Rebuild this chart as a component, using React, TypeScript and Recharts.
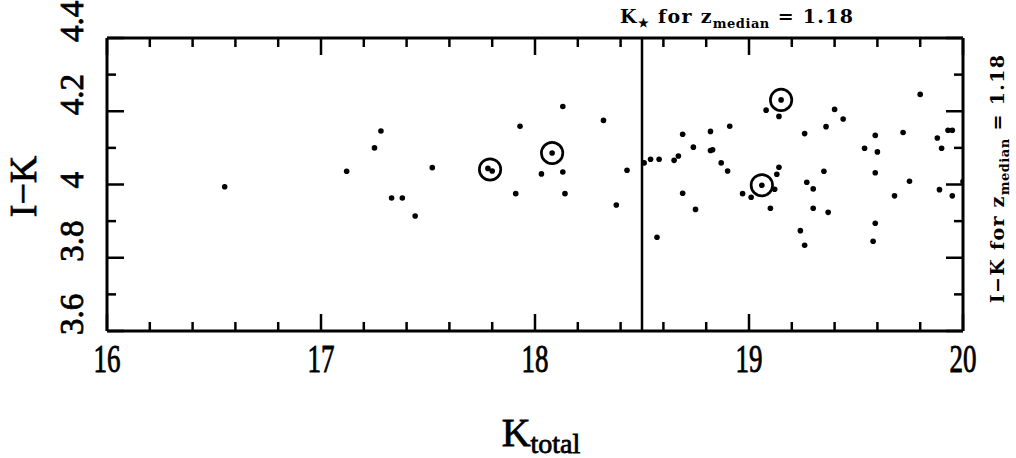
import React from 'react';
import { ScatterChart, Scatter, XAxis, YAxis, ReferenceLine } from 'recharts';

// galaxies: K_total vs I-K
const kTotal = [
  16.55, 17.12, 17.25, 17.28, 17.33, 17.38, 17.44, 17.52, 17.78, 17.8,
  17.91, 17.93, 18.03, 18.08, 18.13, 18.13, 18.14, 18.32, 18.38, 18.43,
  18.51, 18.54, 18.58, 18.57, 18.65, 18.67, 18.69, 18.69, 18.74, 18.75,
  18.82, 18.83, 18.82, 18.87, 18.9, 18.91, 18.97, 19.01, 19.06, 19.08,
  19.1, 19.12, 19.13, 19.14, 19.14, 19.15, 19.24, 19.26, 19.26, 19.27,
  19.3, 19.3, 19.35, 19.36, 19.37, 19.4, 19.44, 19.54, 19.58, 19.59,
  19.59, 19.59, 19.6, 19.68, 19.72, 19.75, 19.8, 19.88, 19.89, 19.9,
  19.93, 19.95, 19.95, 20.0,
];
const iMinusK = [
  3.994, 4.036, 4.1, 4.146, 3.963, 3.963, 3.914, 4.046, 4.044, 4.037,
  3.975, 4.159, 4.029, 4.086, 4.213, 4.034, 3.975, 4.175, 3.944, 4.039,
  4.059, 4.069, 4.069, 3.856, 4.066, 4.078, 4.137, 3.976, 4.102, 3.932,
  4.145, 4.095, 4.093, 4.059, 4.037, 4.159, 3.975, 3.965, 3.998, 4.203,
  3.935, 3.987, 4.028, 4.047, 4.186, 4.231, 3.874, 3.834, 4.139, 4.006,
  3.988, 3.935, 4.036, 4.158, 3.924, 4.205, 4.179, 4.099, 3.845, 4.134,
  4.032, 3.894, 4.089, 3.969, 4.142, 4.009, 4.246, 4.127, 3.986, 4.099,
  4.148, 4.148, 3.969, 4.008,
];

// circled objects
const circledK = [17.79, 18.08, 19.06, 19.15];
const circledIK = [4.041, 4.086, 3.998, 4.231];

const xTicks = [16, 16.2, 16.4, 16.6, 16.8, 17, 17.2, 17.4, 17.6, 17.8, 18, 18.2, 18.4, 18.6, 18.8, 19, 19.2, 19.4, 19.6, 19.8, 20];
const yTicks = [3.6, 3.7, 3.8, 3.9, 4.0, 4.1, 4.2, 4.3, 4.4];
const kStar = 18.5;

const points = kTotal.map((x, i) => ({ x, y: iMinusK[i] }));
const circled = circledK.map((x, i) => ({ x, y: circledIK[i] }));

const serif = '"Liberation Serif", "DejaVu Serif", serif';
const bold = '"DejaVu Serif", "Liberation Serif", serif';

const isMajorX = (v: number) => Math.abs(v - Math.round(v)) < 1e-6;
const isMajorY = (v: number) => Math.round(v * 10) % 2 === 0;
const fmtY = (v: number) => (Math.abs(v - 4) < 1e-6 ? '4' : v.toFixed(1));

const BottomTick = (props: any) => {
  const { x, y, payload } = props;
  const major = isMajorX(payload.value);
  return (
    <g>
      <line x1={x} y1={y} x2={x} y2={y - (major ? 17 : 9)} stroke="#000" strokeWidth={2.5} />
      {major && (
        <text x={x} y={y + 41} textAnchor="middle" fontFamily={serif} fontSize={40} fill="#000"
          stroke="#000" strokeWidth={0.9} textLength={27} lengthAdjust="spacingAndGlyphs">
          {Math.round(payload.value)}
        </text>
      )}
    </g>
  );
};

const TopTick = (props: any) => {
  const { x, y, payload } = props;
  const major = isMajorX(payload.value);
  return <line x1={x} y1={y} x2={x} y2={y + (major ? 17 : 9)} stroke="#000" strokeWidth={2.5} />;
};

const LeftTick = (props: any) => {
  const { x, y, payload } = props;
  const major = isMajorY(payload.value);
  const bx = x - 24;
  const by = y + 4;
  return (
    <g>
      <line x1={x} y1={y} x2={x + (major ? 17 : 9)} y2={y} stroke="#000" strokeWidth={2.5} />
      {major && (
        <text x={bx} y={by} transform={`rotate(-90 ${bx} ${by})`} textAnchor="start"
          fontFamily={serif} fontSize={33} fill="#000" stroke="#000" strokeWidth={0.8}>
          {fmtY(payload.value)}
        </text>
      )}
    </g>
  );
};

const RightTick = (props: any) => {
  const { x, y, payload } = props;
  const major = isMajorY(payload.value);
  return <line x1={x} y1={y} x2={x - (major ? 17 : 9)} y2={y} stroke="#000" strokeWidth={2.5} />;
};

const XTitle = (props: any) => {
  const { viewBox } = props;
  const cx = viewBox.x + viewBox.width / 2 + 6;
  return (
    <text x={cx} y={446} textAnchor="middle" fontFamily={serif} fill="#000" stroke="#000" strokeWidth={0.8}>
      <tspan fontSize={40}>K</tspan>
      <tspan fontSize={28} dy={7}>total</tspan>
    </text>
  );
};

const YTitle = (props: any) => {
  const { viewBox } = props;
  const cy = viewBox.y + viewBox.height / 2 + 2;
  return (
    <text x={36} y={cy} transform={`rotate(-90 36 ${cy})`} textAnchor="middle" fontFamily={serif}
      fontSize={38} fill="#000" stroke="#000" strokeWidth={0.8}>
      I−K
    </text>
  );
};

const RightTitle = (props: any) => {
  const { viewBox } = props;
  const cy = viewBox.y + viewBox.height / 2 - 6;
  const bx = 1004;
  return (
    <text x={bx} y={cy} transform={`rotate(-90 ${bx} ${cy})`} textAnchor="middle" fontFamily={bold}
      fontWeight="bold" fontSize={19} letterSpacing={1.3} fill="#000">
      I−K for z<tspan fontSize={13} dy={5} letterSpacing={0.5}>median</tspan>
      <tspan dy={-5}>  =  1.18</tspan>
    </text>
  );
};

const KStarLabel = (props: any) => {
  const { viewBox } = props;
  const x0 = viewBox.x - 22;
  const y0 = viewBox.y - 15;
  return (
    <text x={x0} y={y0} fontFamily={bold} fontWeight="bold" fontSize={19} letterSpacing={1.3} fill="#000">
      K<tspan fontSize={12} dy={4}>★</tspan>
      <tspan dy={-4}> for z</tspan>
      <tspan fontSize={13} dy={5} letterSpacing={0.5}>median</tspan>
      <tspan dy={-5}>  =  1.18</tspan>
    </text>
  );
};

const Dot = (props: any) => <circle cx={props.cx} cy={props.cy} r={2.8} fill="#000" />;
const Ring = (props: any) => (
  <circle cx={props.cx} cy={props.cy} r={10.7} fill="none" stroke="#000" strokeWidth={2.7} />
);

export default function App() {
  return (
    <div style={{ position: 'absolute', left: 0, top: 0, width: 1016, height: 458, background: '#fff' }}>
      <ScatterChart width={1016} height={458} margin={{ top: 8, right: 13, bottom: 97, left: 67 }}>
        <XAxis type="number" dataKey="x" domain={[16, 20]} ticks={xTicks} interval={0}
          tickSize={0} tickMargin={0} tickLine={false} tick={<BottomTick />} height={30}
          axisLine={{ stroke: '#000', strokeWidth: 3 }} allowDataOverflow label={XTitle} />
        <XAxis xAxisId="top" orientation="top" type="number" dataKey="x" domain={[16, 20]} ticks={xTicks}
          interval={0} tickSize={0} tickMargin={0} tickLine={false} tick={<TopTick />} height={30}
          axisLine={{ stroke: '#000', strokeWidth: 3 }} allowDataOverflow />
        <YAxis type="number" dataKey="y" domain={[3.6, 4.4]} ticks={yTicks} interval={0}
          tickSize={0} tickMargin={0} tickLine={false} tick={<LeftTick />} width={40}
          axisLine={{ stroke: '#000', strokeWidth: 3 }} allowDataOverflow label={YTitle} />
        <YAxis yAxisId="right" orientation="right" type="number" dataKey="y" domain={[3.6, 4.4]}
          ticks={yTicks} interval={0} tickSize={0} tickMargin={0} tickLine={false} tick={<RightTick />}
          width={40} axisLine={{ stroke: '#000', strokeWidth: 3 }} allowDataOverflow label={RightTitle} />
        <ReferenceLine x={kStar} stroke="#000" strokeWidth={2.5} label={KStarLabel} />
        <Scatter data={points} shape={<Dot />} isAnimationActive={false} />
        <Scatter data={circled} shape={<Ring />} isAnimationActive={false} />
      </ScatterChart>
    </div>
  );
}
